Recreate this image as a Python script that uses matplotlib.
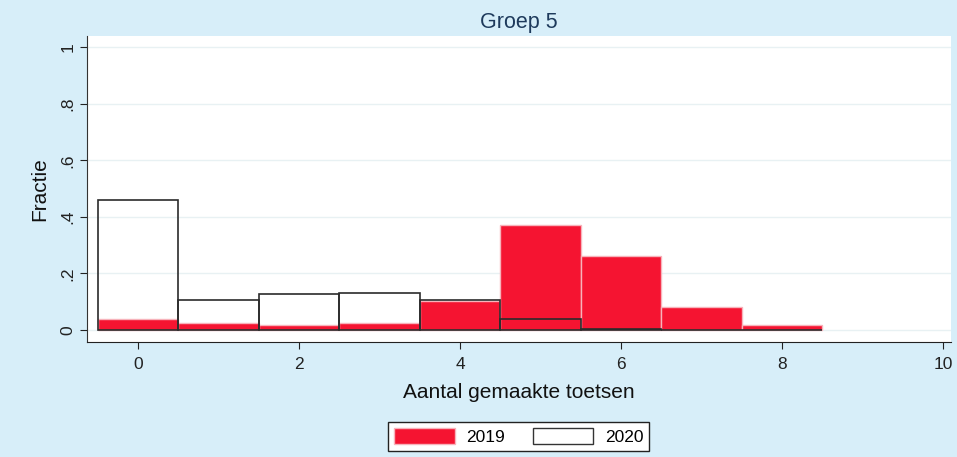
import matplotlib
matplotlib.use("Agg")
import matplotlib.pyplot as plt
from matplotlib.patches import Patch

# data: aantal gemaakte toetsen (0..8), fractie per jaar
toetsen = [0, 1, 2, 3, 4, 5, 6, 7, 8]
frac_2019 = [0.039, 0.025, 0.016, 0.025, 0.104, 0.371, 0.261, 0.081, 0.016]
frac_2020 = [0.459, 0.106, 0.127, 0.131, 0.106, 0.039, 0.004, 0.0, 0.0]

y_ticks = [0, 0.2, 0.4, 0.6, 0.8, 1.0]
y_labels = ["0", ".2", ".4", ".6", ".8", "1"]
x_ticks = [0, 2, 4, 6, 8, 10]

BG = "#D7EEF9"
RED = "#F51431"
TITLE = "#1E3A5C"

plt.rcParams["font.family"] = ["Liberation Sans", "DejaVu Sans"]

fig = plt.figure(figsize=(9.57, 4.57), dpi=100, facecolor=BG)
ax = fig.add_axes([0.091, 0.252, 0.903, 0.669])
ax.set_facecolor("white")

ax.bar(toetsen, frac_2019, width=1.0, color=RED, edgecolor="#F7B3BB",
       linewidth=1.0, zorder=2)
ax.bar(toetsen, frac_2020, width=1.0, facecolor="none", edgecolor="#2b2b2b",
       linewidth=1.2, zorder=3)

ax.set_xlim(-0.635, 10.1)
ax.set_ylim(-0.042, 1.04)
ax.set_xticks(x_ticks)
ax.set_yticks(y_ticks)
ax.set_yticklabels(y_labels, rotation=90, va="center")
ax.tick_params(axis="both", labelsize=12.5, colors="#222222", length=5)
ax.tick_params(axis="x", pad=6)
ax.grid(axis="y", color="#E8F1F3", linewidth=1.0, zorder=0)
ax.set_axisbelow(True)

for s in ["top", "right"]:
    ax.spines[s].set_visible(False)
ax.spines["left"].set_color("#333333")
ax.spines["bottom"].set_color("#222222")

ax.set_ylabel("Fractie", fontsize=15, color="#111111", labelpad=8)
ax.set_xlabel("Aantal gemaakte toetsen", fontsize=15, color="#111111", labelpad=8)
ax.set_title("Groep 5", fontsize=15.5, color=TITLE, pad=6)

handles = [Patch(facecolor=RED, edgecolor="#F7B3BB", label="2019"),
           Patch(facecolor="white", edgecolor="#333333", label="2020")]
leg = fig.legend(handles=handles, loc="center", bbox_to_anchor=(0.542, 0.045),
                 ncol=2, fontsize=12.5, frameon=True, fancybox=False,
                 framealpha=1.0, facecolor="white",
                 handlelength=3.5, handleheight=1.0, columnspacing=1.6,
                 handletextpad=0.65, borderpad=0.35, borderaxespad=0)
leg.get_frame().set_edgecolor("#222222")
leg.get_frame().set_linewidth(1.0)

fig.savefig("out.png", dpi=100, facecolor=BG)
